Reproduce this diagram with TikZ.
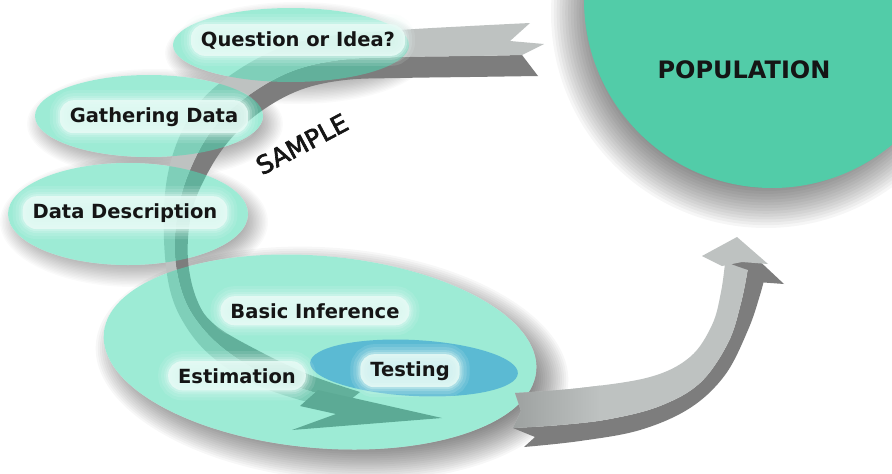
\documentclass[tikz,border=0pt]{standalone}
\usepackage{fontspec}
\setmainfont{DejaVu Sans}
\newfontfamily\samplefont{DejaVu Sans}[FakeBold=2.5]
\definecolor{mintbase}{HTML}{4DDBB4}
\definecolor{popc}{HTML}{52CCA8}
\definecolor{bluec}{HTML}{3FA6D3}
\definecolor{halo}{HTML}{E8FBF6}
\definecolor{textc}{HTML}{151515}
\definecolor{rlight}{HTML}{BEC2C1}
\definecolor{rdark}{HTML}{7D7D7D}
\definecolor{rhead}{HTML}{707070}
\definecolor{rtail}{HTML}{9A9E9D}
% soft shadow: cx, cy, rx, ry, angle, blur, opacity per step
\newcommand{\softellipse}[7]{%
  \foreach \k in {0,...,19}{%
    \pgfmathsetmacro{\srx}{#3+#6*(0.5-\k/19)}%
    \pgfmathsetmacro{\sry}{#4+#6*(0.5-\k/19)}%
    \fill[black, fill opacity=#7, rotate around={#5:(#1,#2)}] (#1,#2) ellipse [x radius=\srx, y radius=\sry];
  }}
\begin{document}
\begin{tikzpicture}[x=1pt, y=-1pt,
  lab/.style={font=\bfseries\fontsize{19.5}{23}\selectfont, text=textc, anchor=base,
    fill=halo, fill opacity=0.85, text opacity=1, rounded corners=14pt,
    inner xsep=10pt, inner ysep=7pt,
    preaction={draw=halo, line width=20pt, draw opacity=0.12},
    preaction={draw=halo, line width=14pt, draw opacity=0.15},
    preaction={draw=halo, line width=8pt, draw opacity=0.2},
    preaction={draw=halo, line width=4pt, draw opacity=0.3}},
  whitebase/.style={fill=white},
  mint/.style={fill=mintbase, fill opacity=0.55},
  smoothplot/.style={smooth, tension=0.6}]
\useasboundingbox (0,0) rectangle (892,474);
\clip (0,0) rectangle (892,474);
\fill[white] (0,0) rectangle (892,474);

% population circle with soft shadow
\softellipse{766}{13}{188}{188}{0}{54}{0.034}
\fill[popc] (772,0) circle [radius=188];

% white bases with soft shadows
\softellipse{297}{53}{118}{37}{0}{28}{0.02}
\path[whitebase] (291,45) ellipse [x radius=118, y radius=37];
\softellipse{155}{124}{114}{41}{0}{28}{0.02}
\path[whitebase] (149,116) ellipse [x radius=114, y radius=41];
\softellipse{134}{222}{120}{51}{0}{28}{0.02}
\path[whitebase] (128,214) ellipse [x radius=120, y radius=51];
\softellipse{332}{364}{217}{96}{-5}{40}{0.03}
\path[whitebase, rotate around={-5:(320,352)}] (320,352) ellipse [x radius=217, y radius=96];

% ribbon 1 (sample loop)
\fill[rdark] plot[smoothplot] coordinates {(522,55) (470,56) (400,57) (340,60) (290,72) (245,98) (212,130) (190,170) (178,210) (175,255) (183,295) (200,325) (228,352) (270,377) (320,394) (350,400)}
  -- plot[smoothplot] coordinates {(360,392) (310,375) (257,350) (215,325) (197,300) (188,260) (191,215) (205,178) (228,142) (260,112) (300,90) (345,80) (400,78) (470,77) (538,76)}
  -- cycle;
\fill[rlight] plot[smoothplot] coordinates {(530,23) (470,26) (400,30) (330,36) (280,48) (235,72) (200,102) (178,140) (166,185) (164,240) (170,290) (185,325) (210,355) (250,382) (300,400) (335,406)}
  -- plot[smoothplot] coordinates {(350,400) (320,394) (270,377) (228,352) (200,325) (183,295) (175,255) (178,210) (190,170) (212,130) (245,98) (290,72) (340,60) (400,57) (470,56) (522,55)}
  -- (544,44) -- (510,41) -- cycle;
\fill[rhead] (318,390) -- (442,418) -- (292,430) -- (336,414) -- (300,406) -- cycle;

% translucent ellipses
\fill[mint] (291,45) ellipse [x radius=118, y radius=37];
\fill[mint] (149,116) ellipse [x radius=114, y radius=41];
\fill[mint] (128,214) ellipse [x radius=120, y radius=51];
\fill[mint, rotate around={-5:(320,352)}] (320,352) ellipse [x radius=217, y radius=96];
\fill[bluec, fill opacity=0.7, rotate around={-3:(414,368)}] (414,368) ellipse [x radius=104, y radius=28];

% ribbon 2 (to population)
\fill[rdark]
  plot[smoothplot] coordinates {(524,447) (580,441) (640,430) (690,408) (725,375) (748,330) (760,295) (766,272)}
  -- plot[smoothplot] coordinates {(748,268) (741,303) (728,343) (700,383) (660,406) (610,419) (560,425) (513,428)}
  -- (535,437) -- cycle;
\begin{scope}
\clip plot[smoothplot] coordinates {(515,393) (580,388) (650,377) (690,357) (712,325) (721,292) (725,263)}
  -- plot[smoothplot] coordinates {(748,268) (741,303) (728,343) (700,383) (660,406) (610,419) (560,425) (513,428)}
  -- (521,411) -- cycle;
\fill[rlight] (500,250) rectangle (780,440);
\shade[left color=rtail, right color=rlight] (505,380) rectangle (600,440);
\end{scope}
\fill[rdark] (725,262) -- (737,240) -- (784,284) -- (757,282) -- (748,270) -- cycle;
\fill[rlight] (702,256) -- (737,237) -- (768,264) -- (742,262) -- (722,266) -- cycle;

% labels
\node[lab] (q) at (298,46) {Question or Idea?};
\node[lab] (g) at (154,122) {Gathering Data};
\node[lab] (d) at (125,218) {Data Description};
\node[lab] (bi) at (315,318) {Basic Inference};
\node[lab] (e) at (237,383) {Estimation};
\node[lab] (t) at (410,376) {Testing};
\node[font=\samplefont\fontsize{25}{30}\selectfont, text=textc, rotate=28, inner sep=0pt] (s) at (302,144) {SAMPLE};
\node[font=\bfseries\fontsize{24}{28}\selectfont, text=textc, anchor=base] (p) at (744,78) {POPULATION};
\end{tikzpicture}
\end{document}
